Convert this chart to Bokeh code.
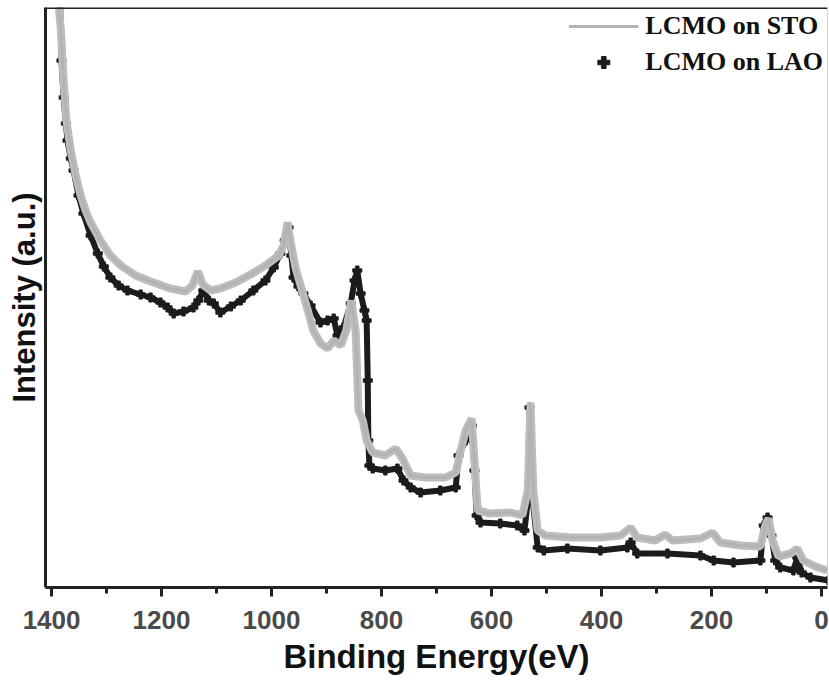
from bokeh.plotting import figure
from bokeh.models import Range1d, FixedTicker, Span, Legend, LegendItem
from bokeh.embed import file_html
from bokeh.resources import INLINE

# ---- data (binding energy in eV, intensity in arbitrary units) ----
sto_be = [1389, 1383, 1378, 1373, 1365, 1356, 1347, 1338, 1329, 1311, 1293, 1274,
          1247, 1220, 1184, 1156, 1144, 1134, 1125, 1111, 1093, 1065, 1038, 1011,
          987, 978, 971, 964, 956, 947, 934, 924, 911, 898, 887, 874, 864, 855,
          847, 842, 834, 827, 816, 793, 774, 762, 747, 720, 684, 665, 656, 647,
          636, 631, 625, 602, 565, 544, 534, 529, 524, 516, 502, 456, 402, 365,
          347, 335, 302, 284, 271, 220, 198, 184, 147, 111, 102, 96, 89, 78, 56,
          44, 33, 11, -11]
sto_int = [595, 557, 507, 467, 437, 412, 392, 377, 365, 347, 332, 322,
           312, 306, 299, 296, 302, 316, 303, 297, 299, 305, 313, 322,
           332, 342, 365, 342, 319, 302, 277, 257, 244, 239, 247, 242, 257, 287,
           257, 177, 167, 147, 135, 132, 139, 129, 112, 110, 110, 115, 137, 157,
           169, 127, 77, 74, 75, 72, 97, 185, 97, 57, 52, 50, 50, 52,
           60, 50, 47, 53, 47, 49, 55, 45, 42, 41, 62, 69, 47, 31, 34,
           39, 27, 21, 17]

lao_be = [1385, 1382, 1378, 1374, 1371, 1365, 1360, 1351, 1342, 1329, 1316, 1305,
          1293, 1278, 1262, 1238, 1220, 1202, 1189, 1178, 1160, 1142, 1133, 1124,
          1114, 1105, 1093, 1074, 1056, 1033, 1011, 996, 984, 976, 969, 964, 960,
          951, 942, 929, 911, 898, 887, 880, 869, 856, 849, 844, 838, 831, 827,
          825, 824, 822, 816, 793, 771, 760, 747, 729, 693, 665, 660, 647, 636,
          631, 627, 620, 584, 553, 540, 534, 531, 525, 516, 505, 462, 402, 353,
          347, 335, 280, 220, 196, 160, 111, 105, 98, 91, 84, 75, 51, 44, 36,
          20, -13]
lao_int = [600, 527, 490, 464, 447, 429, 417, 392, 374, 352, 334, 321,
           310, 302, 297, 293, 290, 285, 280, 274, 276, 280, 287, 297,
           287, 284, 275, 281, 287, 297, 307, 320, 334, 347, 360, 332, 310,
           301, 294, 282, 265, 267, 269, 252, 260, 284, 307, 317, 294, 277, 267,
           207, 147, 122, 119, 117, 119, 107, 100, 95, 97, 100, 132, 147, 162,
           117, 72, 65, 64, 62, 57, 87, 180, 87, 40, 37, 39, 37, 40,
           45, 34, 34, 32, 27, 25, 27, 62, 70, 52, 27, 20, 17, 30, 15,
           10, 7]

x_ticks = [1400, 1200, 1000, 800, 600, 400, 200, 0]
x_minor = [1300, 1100, 900, 700, 500, 300, 100]
labels = ["LCMO on STO", "LCMO on LAO"]

p = figure(width=829, height=686, output_backend="svg", toolbar_location=None,
           x_range=Range1d(1411, -11), y_range=Range1d(0, 580),
           min_border_left=45, min_border_right=2, min_border_top=7,
           min_border_bottom=99, background_fill_color="white",
           border_fill_color="white")
p.outline_line_color = None
p.xgrid.visible = False
p.ygrid.visible = False

gray = "#bdbdbd"
lao_line = p.line(lao_be, lao_int, line_color="#1c1c1c", line_width=6)
lao_pts = p.scatter(lao_be, lao_int, marker="plus", size=9, color="#1c1c1c")
sto_line = p.line(sto_be, sto_int, line_color=gray, line_width=8)
# thin core of the same STO line; used as the legend key
sto_key = p.line(sto_be, sto_int, line_color="#b3b3b3", line_width=3)

# frame edges
p.add_layout(Span(location=580, dimension="width", line_color="#222222", line_width=3))
p.add_layout(Span(location=-11, dimension="height", line_color="#aaaaaa", line_width=1))

# x axis
xa = p.xaxis[0]
xa.ticker = FixedTicker(ticks=x_ticks, minor_ticks=x_minor)
xa.axis_label = "Binding Energy(eV)"
xa.axis_label_text_font = "Liberation Sans"
xa.axis_label_text_font_style = "bold"
xa.axis_label_text_font_size = "33px"
xa.axis_label_text_color = "#111111"
xa.axis_label_standoff = 6
xa.major_label_text_font = "Liberation Sans"
xa.major_label_text_font_style = "bold"
xa.major_label_text_font_size = "26px"
xa.major_label_text_color = "#4a4a4a"
xa.major_label_standoff = 14
xa.axis_line_width = 3
xa.axis_line_color = "#222222"
xa.major_tick_line_width = 3
xa.major_tick_line_color = "#222222"
xa.minor_tick_line_width = 3
xa.minor_tick_line_color = "#222222"
xa.major_tick_in = 0
xa.major_tick_out = 9
xa.minor_tick_in = 0
xa.minor_tick_out = 6

# y axis
ya = p.yaxis[0]
ya.ticker = FixedTicker(ticks=[])
ya.axis_label = "Intensity (a.u.)"
ya.axis_label_text_font = "Liberation Sans"
ya.axis_label_text_font_style = "bold"
ya.axis_label_text_font_size = "31px"
ya.axis_label_text_color = "#111111"
ya.axis_label_standoff = 4
ya.axis_line_width = 3
ya.axis_line_color = "#222222"
ya.major_tick_line_color = None
ya.minor_tick_line_color = None

legend = Legend(items=[LegendItem(label=labels[0], renderers=[sto_key]),
                       LegendItem(label=labels[1], renderers=[lao_pts])],
                location="top_right", border_line_color=None,
                background_fill_alpha=0, label_text_font="Liberation Serif",
                label_text_font_style="bold", label_text_font_size="26px",
                label_text_color="#111111", glyph_width=70, glyph_height=30,
                label_height=30, spacing=6, label_standoff=7, margin=4, padding=8)
p.add_layout(legend)

open("out.html", "w").write(file_html(p, INLINE))
